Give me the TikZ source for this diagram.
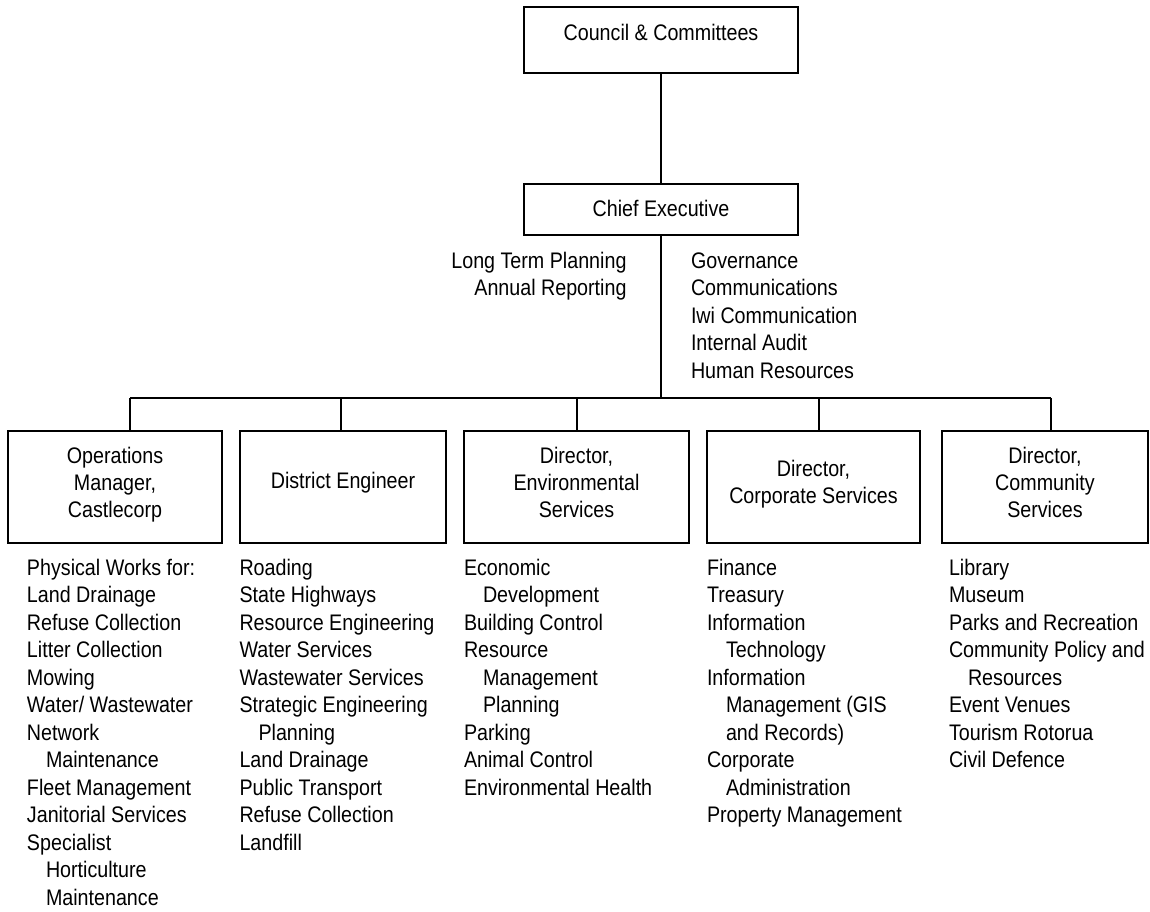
\documentclass[tikz,border=0pt]{standalone}
\usepackage{fontspec}
\setmainfont{Liberation Sans}[FakeStretch=0.875]
\newcommand\lf{\fontsize{22.5}{27.5}\selectfont}
\newcommand\ind{\hspace*{19pt}}
% name, x, first baseline y, line step, anchor, list of lines
\newcommand\txtlines[6]{%
  \foreach \t [count=\i] in {#6}{%
    \node[txt, anchor=#5] (#1-\i) at (#2,{#3+#4*(\i-1)}) {\t};}}
\tikzset{
  txt/.style={inner sep=0pt, outer sep=0pt, font=\lf},
  orgbox/.style={draw, line width=1.5pt, rectangle, inner sep=0pt, outer sep=0pt},
  link/.style={line width=1.4pt},
}
\begin{document}
\begin{tikzpicture}[x=1pt, y=-1pt]
\useasboundingbox (0,0) rectangle (1150,911);

% boxes
\node[orgbox, minimum width=274pt, minimum height=66pt] (council) at (661,40) {};
\node[orgbox, minimum width=274pt, minimum height=51pt] (ceo) at (661,209.5) {};
\node[orgbox, minimum width=214pt, minimum height=112pt] (b1) at (115,487) {};
\node[orgbox, minimum width=206pt, minimum height=112pt] (b2) at (343,487) {};
\node[orgbox, minimum width=225pt, minimum height=112pt] (b3) at (576.5,487) {};
\node[orgbox, minimum width=213pt, minimum height=112pt] (b4) at (813.5,487) {};
\node[orgbox, minimum width=206pt, minimum height=112pt] (b5) at (1045,487) {};

% box texts
\node[txt, anchor=base] (council-t) at (661,40.7) {Council \& Committees};
\node[txt, anchor=base] (ceo-t) at (661,216.7) {Chief Executive};
\txtlines{b1t}{115}{463.3}{27.2}{base}{Operations,{Manager,},Castlecorp}
\node[txt, anchor=base] (b2t) at (343,488.3) {District Engineer};
\txtlines{b3t}{576.5}{463.3}{27.2}{base}{{Director,},Environmental,Services}
\txtlines{b4t}{813.5}{476.7}{26.8}{base}{{Director,},Corporate Services}
\txtlines{b5t}{1045}{463.3}{27.2}{base}{{Director,},Community,Services}

% connectors
\coordinate (j0) at (661,398);
\coordinate (j1) at (130,398);
\coordinate (j2) at (341,398);
\coordinate (j3) at (577,398);
\coordinate (j4) at (819,398);
\coordinate (j5) at (1051,398);
\draw[link] (council.south) -- (ceo.north);
\draw[link] (ceo.south) -- (j0);
\draw[link] (j1) -- (j5);
\draw[link] (j1) -- (j1 |- b1.north);
\draw[link] (j2) -- (j2 |- b2.north);
\draw[link] (j3) -- (j3 |- b3.north);
\draw[link] (j4) -- (j4 |- b4.north);
\draw[link] (j5) -- (j5 |- b5.north);

% CEO side lists
\txtlines{ceoL}{626.5}{268}{27.5}{base east}{Long Term Planning,Annual Reporting}
\txtlines{ceoR}{691}{268}{27.5}{base west}{Governance,Communications,Iwi Communication,Internal Audit,Human Resources}

% department lists
\txtlines{c1}{27}{575}{27.5}{base west}{{Physical Works for:},{Land Drainage},{Refuse Collection},{Litter Collection},Mowing,{Water/ Wastewater},Network,{\ind Maintenance},{Fleet Management},{Janitorial Services},Specialist,{\ind Horticulture},{\ind Maintenance}}
\txtlines{c2}{239.5}{575}{27.5}{base west}{Roading,{State Highways},{Resource Engineering},{Water Services},{Wastewater Services},{Strategic Engineering},{\ind Planning},{Land Drainage},{Public Transport},{Refuse Collection},Landfill}
\txtlines{c3}{464}{575}{27.5}{base west}{Economic,{\ind Development},{Building Control},Resource,{\ind Management},{\ind Planning},Parking,{Animal Control},{Environmental Health}}
\txtlines{c4}{707}{575}{27.5}{base west}{Finance,Treasury,Information,{\ind Technology},Information,{\ind Management (GIS},{\ind and Records)},Corporate,{\ind Administration},{Property Management}}
\txtlines{c5}{949}{575}{27.5}{base west}{Library,Museum,{Parks and Recreation},{Community Policy and},{\ind Resources},{Event Venues},{Tourism Rotorua},{Civil Defence}}
\end{tikzpicture}
\end{document}
